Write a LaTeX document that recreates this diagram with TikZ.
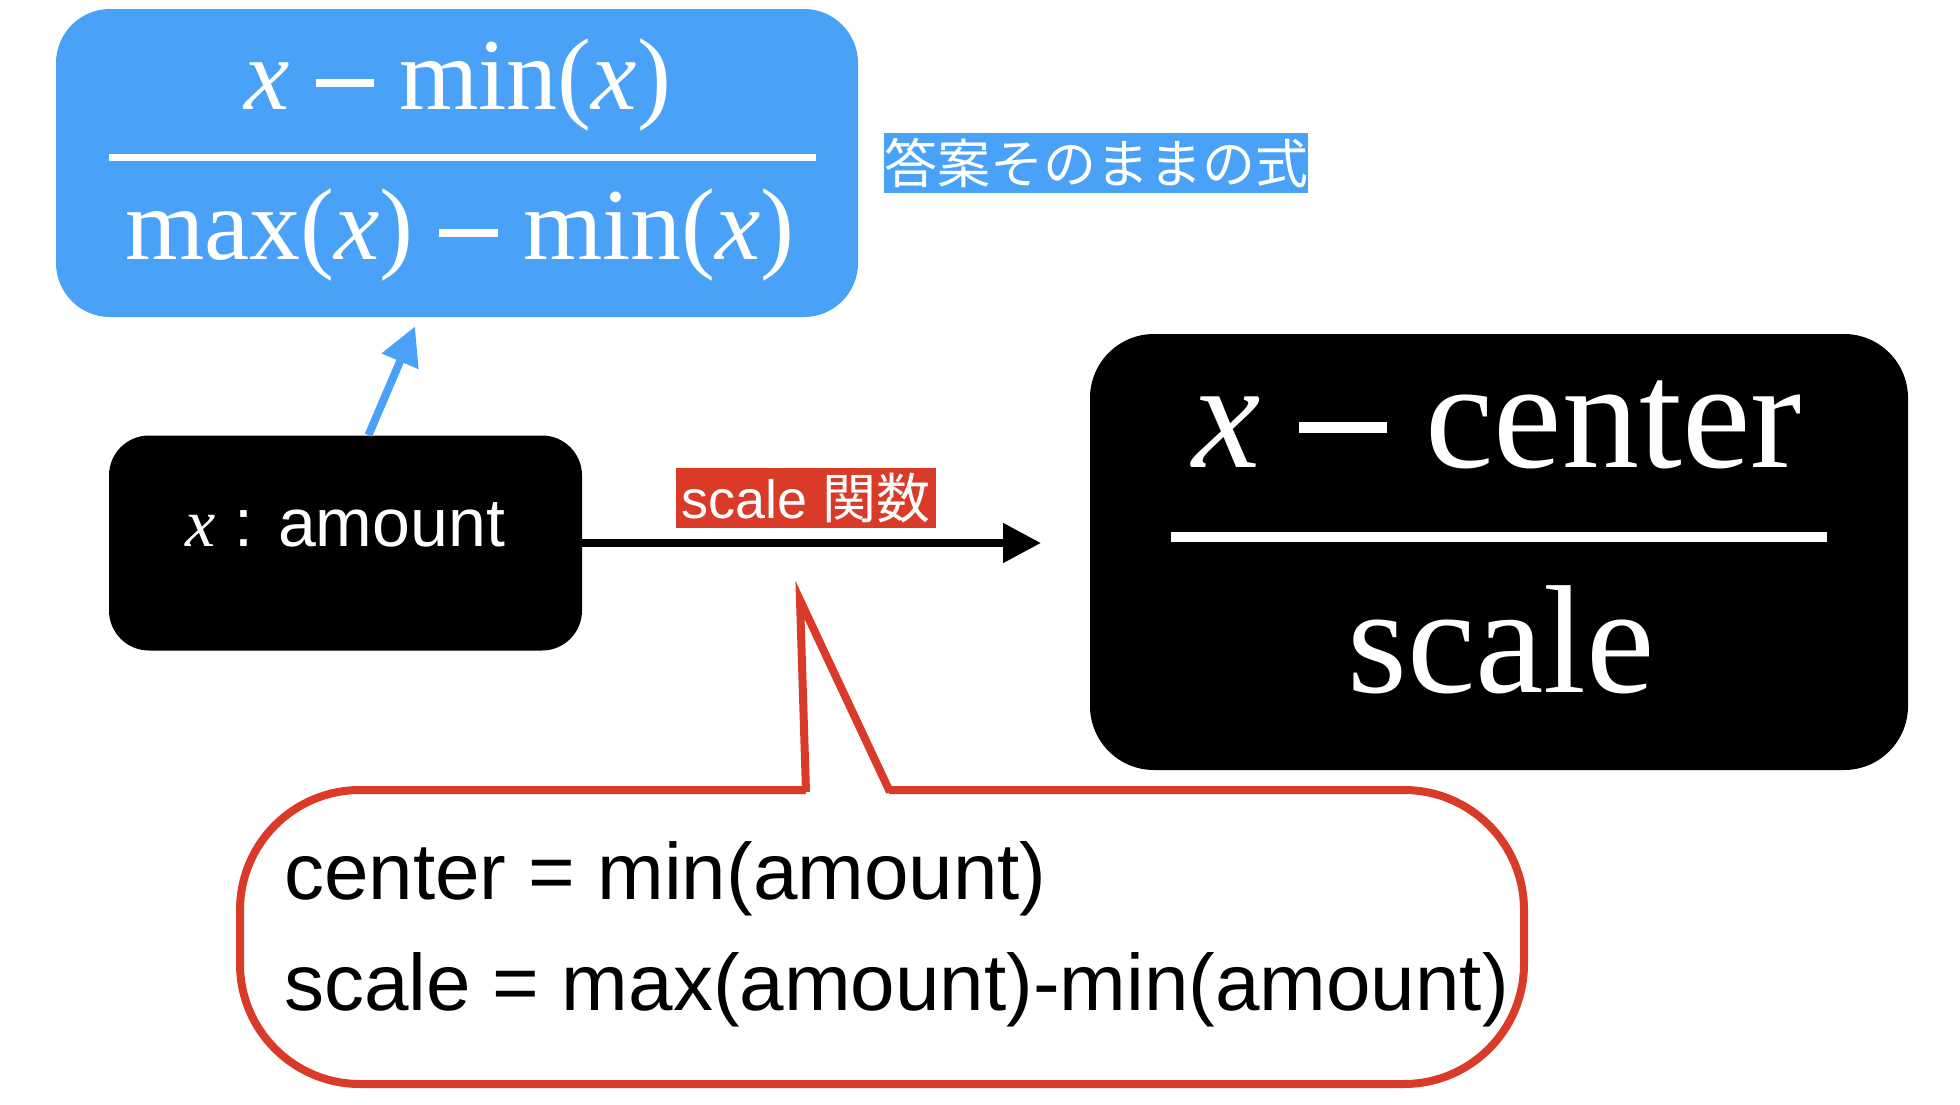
\documentclass[tikz,border=0pt]{standalone}
\usepackage{fontspec}
\setmainfont{Liberation Serif}
\setsansfont{Liberation Sans}
\newfontfamily\jpfont{Noto Sans CJK JP}
\usepackage{tikz}
\usetikzlibrary{arrows.meta,calc}
\definecolor{keyblue}{HTML}{4AA2F8}
\definecolor{keyred}{HTML}{D93B28}
\newcommand{\xv}{\textit{x}}
\newcommand{\mbar}{\rule[0.22em]{0.57em}{0.07em}}

\begin{document}
\begin{tikzpicture}[x=0.5pt,y=-0.5pt,
    panel/.style={inner sep=0pt,text=white},
    tag/.style={inner sep=0pt,text=white,minimum height=30pt},
    big/.style={white,anchor=base,font=\fontsize{#1}{#1}\selectfont},
    arr/.style={line width=4pt,-{Triangle[length=19pt,width=19pt]}}]
\useasboundingbox (0,0) rectangle (1960,1104);

    % normalisation formula
    \node[panel,fill=keyblue,rounded corners=27pt,minimum width=401pt,minimum height=154pt] (formula) at (457,163) {};
    \node[big=51] (fnum) at (458,109) {\xv{} \mbar{} min(\xv)};
    \draw[white,line width=3.5pt] (109,157) -- (816,157);
    \node[big=51] (fden) at (460,259) {max(\xv) \mbar{} min(\xv)};
    \node[tag,fill=keyblue,minimum width=210.5pt] (note) at (1096,163) {\fontsize{26.5}{26.5}\selectfont\jpfont 答案そのままの式};

    % input
    \node[panel,fill=black,rounded corners=20pt,minimum width=236.5pt,minimum height=107.5pt] (amount) at (345.5,543) {};
    \node[white,anchor=base,font=\fontsize{34}{34}\selectfont\sffamily] (amountlbl) at (345,546) {{\rmfamily\itshape x} : amount};

    % scaled value
    \node[panel,fill=black,rounded corners=32pt,minimum width=409pt,minimum height=218pt] (scaled) at (1499,552) {};
    \node[big=77] (snum) at (1497,467) {\xv{} \mbar{} center};
    \draw[white,line width=5pt] (1171,537) -- (1827,537);
    \node[big=77] (sden) at (1501,692) {scale};

    % arrows
    \coordinate (arrowend) at (1041,543);
    \draw[arr,keyblue] ($(amount.north)+(23,0)$) -- ($(formula.south)+(-42,9)$);
    \draw[arr,black] (amount.east) -- (arrowend);
    \node[tag,fill=keyred,minimum width=130pt] (func) at (806,498) {\fontsize{27}{27}\selectfont\sffamily scale {\jpfont 関数}};

    % callout
    \node[draw=keyred,line width=4pt,fill=white,rounded corners=60pt,minimum width=642pt,minimum height=147pt] (bubble) at (882,937) {};
    \coordinate (tip) at (800,600);
    \fill[white] (806,796) -- (tip) -- (890,796) -- cycle;
    \draw[keyred,line width=4pt] (806,792) -- (tip) -- (890,792);
    \node[anchor=base west,font=\fontsize{40}{40}\selectfont\sffamily] (line1) at (277,899) {center = min(amount)};
    \node[anchor=base west,font=\fontsize{40}{40}\selectfont\sffamily] (line2) at (277,1010) {scale = max(amount)-min(amount)};

\end{tikzpicture}
\end{document}
